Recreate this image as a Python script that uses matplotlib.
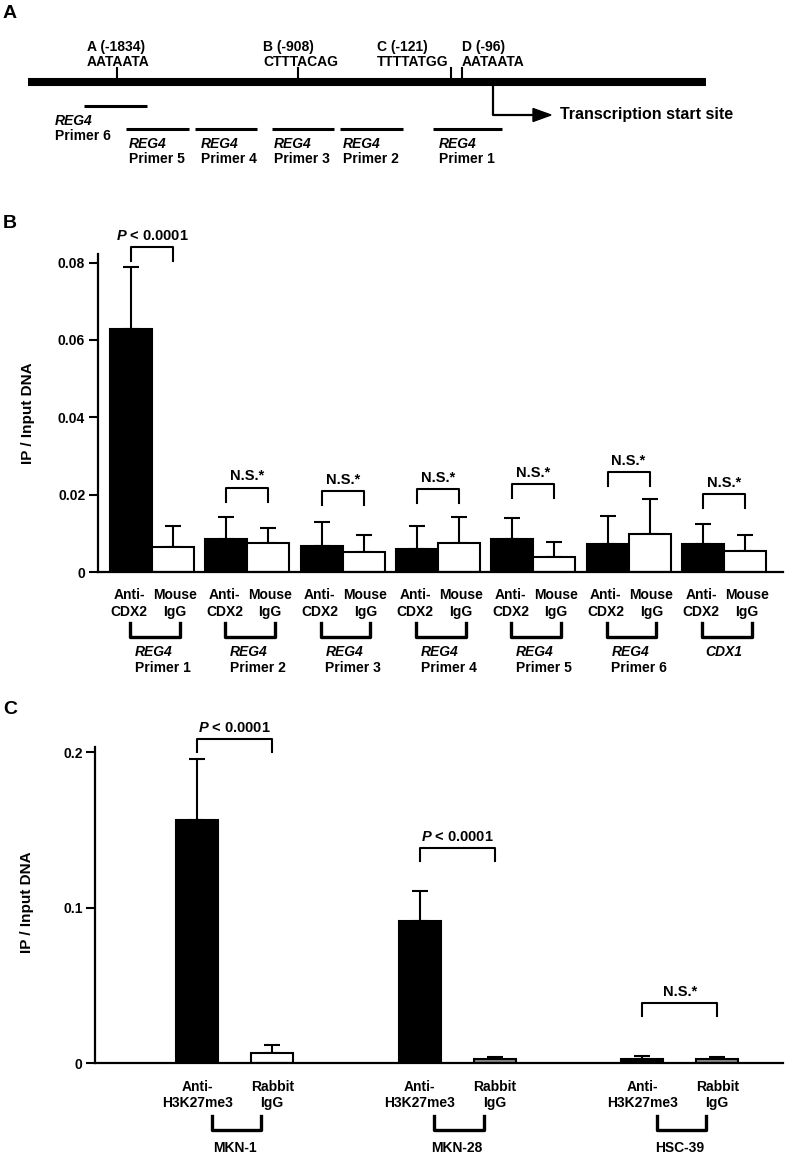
import matplotlib
matplotlib.use('Agg')
import matplotlib.pyplot as plt
import matplotlib.transforms as mtrans
from matplotlib.patches import Polygon

plt.rcParams['font.family'] = ['Liberation Sans', 'DejaVu Sans']
plt.rcParams['font.weight'] = 'bold'
plt.rcParams['axes.labelweight'] = 'bold'
plt.rcParams['mathtext.fontset'] = 'custom'
plt.rcParams['mathtext.it'] = 'Liberation Sans:italic:bold'
plt.rcParams['mathtext.rm'] = 'Liberation Sans:bold'

# ---- panel A: promoter schematic (schematic x units) ----
site_names = ['A (-1834)', 'B (-908)', 'C (-121)', 'D (-96)']
site_seqs = ['AATAATA', 'CTTTACAG', 'TTTTATGG', 'AATAATA']
site_x = [117, 298, 451, 462]
site_text_x = [87, 263, 377, 462]
promoter_span = [28, 706]
tss_x = 493
primer_names = ['Primer 1', 'Primer 2', 'Primer 3', 'Primer 4', 'Primer 5', 'Primer 6']
primer_start = [433, 340, 272, 195, 126, 84]
primer_end = [502, 403, 334, 257, 189, 147]
primer_text_x = [439, 343, 274, 201, 129, 55]

# ---- panel B: CDX2 ChIP ----
b_targets = ['Primer 1', 'Primer 2', 'Primer 3', 'Primer 4', 'Primer 5', 'Primer 6', '']
b_genes = ['REG4', 'REG4', 'REG4', 'REG4', 'REG4', 'REG4', 'CDX1']
b_cdx2 = [0.0627, 0.0085, 0.0067, 0.0059, 0.0085, 0.0072, 0.0072]
b_cdx2_err = [0.0161, 0.0057, 0.0063, 0.0060, 0.0055, 0.0074, 0.0051]
b_igg = [0.0065, 0.0075, 0.0052, 0.0074, 0.0040, 0.0099, 0.0053]
b_igg_err = [0.0055, 0.0039, 0.0044, 0.0067, 0.0038, 0.0090, 0.0042]
b_stats = ['P', 'N.S.*', 'N.S.*', 'N.S.*', 'N.S.*', 'N.S.*', 'N.S.*']
b_bracket = [0.0840, 0.0218, 0.0210, 0.0215, 0.0227, 0.0258, 0.0201]
b_yticks = [0, 0.02, 0.04, 0.06, 0.08]
b_yticklabels = ['0', '0.02', '0.04', '0.06', '0.08']

# ---- panel C: H3K27me3 ChIP ----
c_cells = ['MKN-1', 'MKN-28', 'HSC-39']
c_h3 = [0.1565, 0.0917, 0.0030]
c_h3_err = [0.0392, 0.0191, 0.0017]
c_rab = [0.0064, 0.0026, 0.0026]
c_rab_err = [0.0054, 0.0017, 0.0014]
c_rab_color = ['white', '#8a8a8a', '#8a8a8a']
c_stats = ['P', 'P', 'N.S.*']
c_bracket = [0.2086, 0.1383, 0.0386]
c_yticks = [0, 0.1, 0.2]
c_yticklabels = ['0', '0.1', '0.2']

W, H = 787, 1157
fig = plt.figure(figsize=(W / 100, H / 100), dpi=100)
ov = fig.add_axes([0, 0, 1, 1], zorder=5)
ov.set_xlim(0, W)
ov.set_ylim(H, 0)
ov.axis('off')
ov.patch.set_alpha(0)

FS = 10
FSL = 10.5
P_TXT = r'$\it{P}$ < 0.0001'

# panel letters
for letter, y in zip(['A', 'B', 'C'], [14, 223, 710]):
    ov.text(10, y, letter, fontsize=14, ha='center', va='center')

# ---- panel A ----
ov.plot(promoter_span, [82, 82], color='k', lw=5.8, solid_capstyle='butt')
for x, tx, nm, sq in zip(site_x, site_text_x, site_names, site_seqs):
    ov.plot([x, x], [68, 80], color='k', lw=1.5)
    ov.text(tx, 47, nm, fontsize=FS, ha='left', va='center')
    ov.text(tx, 62.5, sq, fontsize=FS, ha='left', va='center')
ov.plot([tss_x, tss_x, 534], [84, 115, 115], color='k', lw=1.6)
ov.add_patch(Polygon([[533, 108.5], [551, 115], [533, 121.5]], closed=True, color='k'))
ov.text(560, 115, 'Transcription start site', fontsize=11.5, ha='left', va='center')
for s, e, tx, nm in zip(primer_start, primer_end, primer_text_x, primer_names):
    ly = 106 if nm == 'Primer 6' else 128.5
    ov.plot([s, e], [ly, ly], color='k', lw=2.2, solid_capstyle='butt')
    ty = 121 if nm == 'Primer 6' else 143.5
    ov.text(tx, ty, 'REG4', fontsize=FS, style='italic', ha='left', va='center')
    ov.text(tx, ty + 15.5, nm, fontsize=FS, ha='left', va='center')


def style_axes(ax, ticks, labels):
    for s in ['top', 'right']:
        ax.spines[s].set_visible(False)
    for s in ['left', 'bottom']:
        ax.spines[s].set_linewidth(1.6)
    ax.set_yticks(ticks)
    ax.set_yticklabels(labels)
    ax.set_xticks([])
    ax.tick_params(axis='y', direction='out', length=6.5, width=1.5, labelsize=FS, pad=2.5)
    ax.patch.set_alpha(0)


def draw_bracket(ax, x0, x1, top, leg, label):
    ax.plot([x0, x0, x1, x1], [top - leg, top, top, top - leg], color='k', lw=1.5, clip_on=False)
    txt = P_TXT if label == 'P' else label
    ax.annotate(txt, ((x0 + x1) / 2, top), xytext=(0, 3), textcoords='offset points',
                ha='center', va='bottom', fontsize=FSL, annotation_clip=False)


# ---- panel B ----
axb = fig.add_axes([97.7 / W, 1 - 572 / H, (783 - 97.7) / W, 318 / H])
style_axes(axb, b_yticks, b_yticklabels)
axb.set_xlim(-0.57, 6.62)
axb.set_ylim(0, 0.0822)
gx = list(range(len(b_genes)))
off, bw = 0.22, 0.44
xb1 = [g - off for g in gx]
xb2 = [g + off for g in gx]
axb.bar(xb1, b_cdx2, width=bw, color='k', edgecolor='k', linewidth=1.5, zorder=2)
axb.bar(xb2, b_igg, width=bw, color='white', edgecolor='k', linewidth=1.5, zorder=2)
axb.errorbar(xb1, b_cdx2, yerr=[[0] * 7, b_cdx2_err], fmt='none', ecolor='k', elinewidth=1.5,
             capsize=6, capthick=1.5, zorder=1)
axb.errorbar(xb2, b_igg, yerr=[[0] * 7, b_igg_err], fmt='none', ecolor='k', elinewidth=1.5,
             capsize=6, capthick=1.5, zorder=1)
for g in gx:
    draw_bracket(axb, xb1[g], xb2[g], b_bracket[g], 0.0036, b_stats[g])
axb.set_ylabel('IP / Input DNA', fontsize=11)
axb.yaxis.set_label_coords(-0.092, 0.5)

tb = mtrans.blended_transform_factory(axb.transData, ov.transData)
for g in gx:
    ov.text(xb1[g] - 0.02, 603.5, 'Anti-\nCDX2', transform=tb, fontsize=FS, ha='center',
            va='center', linespacing=1.2)
    ov.text(xb2[g] + 0.02, 603.5, 'Mouse\nIgG', transform=tb, fontsize=FS, ha='center',
            va='center', linespacing=1.2)
    ov.plot([g - 0.23, g - 0.23, g + 0.29, g + 0.29], [623, 636.5, 636.5, 623], color='k', lw=2.4,
            transform=tb)
    if b_targets[g]:
        ov.text(g - 0.18, 652, b_genes[g], transform=tb, fontsize=FS, style='italic',
                ha='left', va='center')
        ov.text(g - 0.18, 668.5, b_targets[g], transform=tb, fontsize=FS, ha='left', va='center')
    else:
        ov.text(g, 652, b_genes[g], transform=tb, fontsize=FS, style='italic',
                ha='center', va='center')

# ---- panel C ----
axc = fig.add_axes([95 / W, 1 - 1063.3 / H, (783 - 95) / W, (1063.3 - 746.7) / H])
style_axes(axc, c_yticks, c_yticklabels)
axc.set_xlim(-0.628, 2.464)
axc.set_ylim(0, 0.2036)
cx = list(range(len(c_cells)))
coff, cbw = 0.1685, 0.189
xc1 = [g - coff for g in cx]
xc2 = [g + coff for g in cx]
axc.bar(xc1, c_h3, width=cbw, color='k', edgecolor='k', linewidth=1.5, zorder=2)
axc.bar(xc2, c_rab, width=cbw, color=c_rab_color, edgecolor='k', linewidth=1.5, zorder=2)
axc.errorbar(xc1, c_h3, yerr=[[0] * 3, c_h3_err], fmt='none', ecolor='k', elinewidth=1.5,
             capsize=6, capthick=1.5, zorder=1)
axc.errorbar(xc2, c_rab, yerr=[[0] * 3, c_rab_err], fmt='none', ecolor='k', elinewidth=1.5,
             capsize=6, capthick=1.5, zorder=1)
for g in cx:
    draw_bracket(axc, xc1[g], xc2[g], c_bracket[g], 0.0085, c_stats[g])
axc.set_ylabel('IP / Input DNA', fontsize=11)
axc.yaxis.set_label_coords(-0.088, 0.51)

tc = mtrans.blended_transform_factory(axc.transData, ov.transData)
for g in cx:
    ov.text(xc1[g], 1095, 'Anti-\nH3K27me3', transform=tc, fontsize=FS, ha='center', va='center',
            linespacing=1.2)
    ov.text(xc2[g], 1095, 'Rabbit\nIgG', transform=tc, fontsize=FS, ha='center', va='center',
            linespacing=1.2)
    ov.plot([g - 0.104, g - 0.104, g + 0.12, g + 0.12], [1116, 1129.5, 1129.5, 1116], color='k',
            lw=2.4, transform=tc)
    ov.text(g, 1148.5, c_cells[g], transform=tc, fontsize=FS, ha='center', va='center')

fig.savefig('out.png', dpi=100)
